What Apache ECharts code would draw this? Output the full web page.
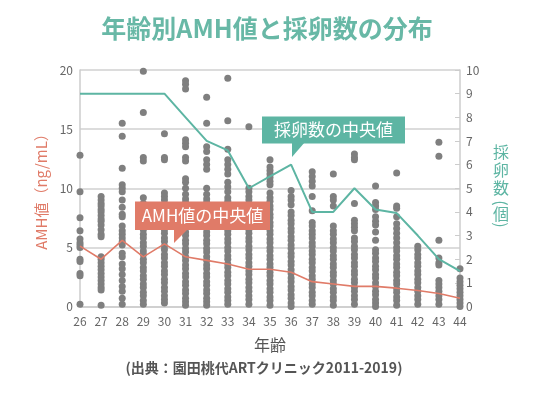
<!DOCTYPE html>
<html><head><meta charset="utf-8">
<script src="https://cdn.jsdelivr.net/npm/echarts@6/dist/echarts.min.js"></script>
<style>html,body{margin:0;padding:0;background:#fff}#c{width:534px;height:394px}</style>
</head><body><div id="c"></div>
<script>
const ages = [26,27,28,29,30,31,32,33,34,35,36,37,38,39,40,41,42,43,44];
const amhMedian = [5.1,4.0,5.6,4.2,5.3,4.2,3.9,3.6,3.15,3.15,2.9,2.1,1.9,1.7,1.7,1.55,1.35,1.1,0.7];
const eggMedian = [9,9,9,9,9,8,7,6.6,5,5.5,6,4,4,5,4.1,3.95,3,2,1.5];
const leftTicks = [0,5,10,15,20];
const rightTicks = [0,1,2,3,4,5,6,7,8,9,10];

const amh26 = [12.8,9.7,7.5,6.4,5.7,5.4,5.2,5.0,4.0,3.8,2.8,2.6,0.2];
const amh27 = [9.3,9.0,8.7,8.5,8.2,8.0,7.7,7.4,7.2,6.9,6.5,6.1,5.9,4.2,4.0,3.7,3.4,3.1,2.8,2.5,2.2,1.9,1.6,1.4,0.1];
const amh28 = [15.5,14.4,11.7,10.3,10.0,9.7,9.0,8.4,7.8,7.6,6.8,6.4,6.1,5.8,5.5,5.2,4.5,4.2,3.6,3.2,2.7,2.2,1.7,1.3,0.7,0.2];
const amh29 = [19.9,16.4,12.6,12.3,9.2,8.7,8.3,8.0,7.6,7.2,6.9,6.5,6.1,5.8,5.4,5.1,4.7,4.4,4.0,3.7,3.3,3.0,2.6,2.3,1.9,1.6,1.2,0.9,0.5,0.2];
const amh30 = [14.6,12.6,12.4,9.6,9.3,9.0,8.6,8.3,7.9,7.6,7.2,6.9,6.5,6.2,5.8,5.5,5.1,4.8,4.4,4.1,3.7,3.4,3.0,2.7,2.3,2.0,1.6,1.3,0.9,0.6,0.3];
const amh31 = [19.1,18.8,18.4,14.1,13.8,13.5,12.6,12.3,10.8,10.5,10.0,9.5,9.1,8.8,8.4,8.1,7.7,7.4,7.0,6.7,6.3,6.0,5.6,5.3,4.9,4.6,4.2,3.9,3.5,3.2,2.8,2.5,2.1,1.8,1.4,1.1,0.7,0.4,0.1];
const amh32 = [17.7,15.5,13.5,13.1,12.4,12.0,11.6,10.0,9.5,9.1,8.8,8.4,8.1,7.7,7.4,7.0,6.7,6.3,6.0,5.6,5.3,4.9,4.6,4.2,3.9,3.5,3.2,2.8,2.5,2.1,1.8,1.4,1.1,0.7,0.4,0.1];
const amh33 = [19.3,15.7,13.3,12.4,12.0,11.6,11.2,10.5,10.1,9.7,9.2,8.9,8.5,8.2,7.8,7.5,7.1,6.8,6.4,6.1,5.7,5.4,5.0,4.7,4.3,4.0,3.6,3.3,2.9,2.6,2.2,1.9,1.5,1.2,0.8,0.5,0.2];
const amh34 = [15.2,10.0,9.7,9.3,9.0,8.6,8.3,7.9,7.6,7.2,6.9,6.5,6.2,5.8,5.5,5.1,4.8,4.4,4.1,3.7,3.4,3.0,2.7,2.3,2.0,1.6,1.3,0.9,0.6,0.2];
const amh35 = [12.4,11.8,11.5,11.2,10.9,10.6,10.3,9.6,9.2,8.9,8.5,8.2,7.8,7.5,7.1,6.8,6.4,6.1,5.7,5.4,5.0,4.7,4.3,4.0,3.6,3.3,2.9,2.6,2.2,1.9,1.5,1.2,0.8,0.5,0.1];
const amh36 = [9.8,9.3,9.0,8.6,8.0,7.7,7.3,7.0,6.6,6.3,5.9,5.6,5.2,4.9,4.5,4.2,3.8,3.5,3.1,2.8,2.4,2.1,1.7,1.4,1.0,0.7,0.3,0.0];
const amh37 = [11.4,11.0,10.6,10.2,9.3,8.1,7.1,6.8,6.4,6.1,5.8,5.4,5.1,4.7,4.4,4.0,3.7,3.3,3.0,2.6,2.3,1.9,1.6,1.2,0.9,0.5,0.2];
const amh38 = [11.2,9.3,9.0,8.5,6.8,6.4,6.1,5.7,5.4,5.0,4.7,4.3,4.0,3.6,3.3,2.9,2.6,2.2,1.9,1.5,1.2,0.8,0.5,0.1];
const amh39 = [12.9,12.6,12.4,8.7,7.3,7.0,6.7,6.4,5.8,5.5,5.1,4.8,4.4,4.1,3.7,3.4,3.0,2.7,2.3,2.0,1.6,1.3,0.9,0.6,0.2];
const amh40 = [10.2,8.8,8.5,8.2,7.6,7.2,6.9,6.3,5.6,4.8,4.5,4.1,3.8,3.4,3.1,2.7,2.4,2.0,1.7,1.3,1.0,0.6,0.3,0.0];
const amh41 = [11.3,8.5,8.3,7.6,7.0,6.6,6.2,5.8,5.4,5.0,4.7,4.3,4.0,3.6,3.3,2.9,2.6,2.2,1.9,1.5,1.2,0.8,0.5,0.1];
const amh42 = [5.1,4.8,4.4,4.1,3.7,3.4,3.0,2.7,2.3,2.0,1.6,1.3,0.9,0.6,0.2];
const amh43 = [13.9,12.7,5.6,4.1,3.7,3.5,2.2,1.9,1.6,1.3,0.9,0.6,0.2];
const amh44 = [3.2,2.4,2.1,1.8,1.5,1.2,0.9,0.6,0.3,0.0];

const perAge = [amh26,amh27,amh28,amh29,amh30,amh31,amh32,amh33,amh34,amh35,amh36,amh37,amh38,amh39,amh40,amh41,amh42,amh43,amh44];
const scatterData = [];
perAge.forEach((arr,i)=>arr.forEach(v=>scatterData.push([ages[i],v])));

const TEAL = '#5db5a3', SALMON = '#e07b68', FONT = '"Noto Sans CJK JP", "Noto Sans", sans-serif';
// [char, y, rotated]
const rightTitleChars = [['採',152,0],['卵',170,0],['数',188,0],['(',203,1],['個',214,0],[')',225,1]];
const chart = echarts.init(document.getElementById('c'), null, {renderer:'canvas'});
chart.setOption({
  animation:false,
  textStyle:{fontFamily:FONT},
  title:{text:'年齢別AMH値と採卵数の分布', left:'center', top:11,
    textStyle:{color:'#68b8a6', fontSize:25, fontWeight:'bold', fontFamily:FONT}},
  grid:{left:80, right:74, top:70, bottom:87.5, containLabel:false},
  xAxis:{type:'value', min:26, max:44, interval:1,
    axisLine:{show:true, lineStyle:{color:'#cccccc', width:1.5}},
    axisTick:{show:false}, splitLine:{show:false},
    axisLabel:{color:'#666', fontSize:12, margin:9, fontFamily:FONT},
    name:'年齢', nameLocation:'middle', nameGap:30,
    nameTextStyle:{color:'#555', fontSize:16, fontFamily:FONT}},
  yAxis:[
    {type:'value', min:leftTicks[0], max:leftTicks[leftTicks.length-1], interval:5,
     axisLine:{show:true, lineStyle:{color:'#cccccc', width:1.5}},
     axisTick:{show:false},
     splitLine:{show:true, lineStyle:{color:'#d0d0d0', width:1.5}},
     axisLabel:{color:'#666', fontSize:12, margin:7, fontFamily:FONT}},
    {type:'value', min:rightTicks[0], max:rightTicks[rightTicks.length-1], interval:1, position:'right',
     axisLine:{show:true, lineStyle:{color:'#cccccc', width:1.5}},
     axisTick:{show:true, inside:true, length:5, lineStyle:{color:'#cccccc'}},
     splitLine:{show:false},
     axisLabel:{color:'#666', fontSize:12, margin:6, fontFamily:FONT}}
  ],
  series:[
    {type:'scatter', data:scatterData, symbolSize:7, itemStyle:{color:'#7f7f7f', opacity:1}, z:2},
    {type:'line', data:ages.map((a,i)=>[a,amhMedian[i]]), yAxisIndex:0, symbol:'none',
     lineStyle:{color:SALMON, width:1.6}, z:3},
    {type:'line', data:ages.map((a,i)=>[a,eggMedian[i]]), yAxisIndex:1, symbol:'none',
     lineStyle:{color:TEAL, width:2}, z:3}
  ],
  graphic:[
    {type:'text', x:41, y:188, rotation:Math.PI/2,
     style:{text:'AMH値（ng/mL）', fill:SALMON, font:'15px '+FONT, textAlign:'center', textVerticalAlign:'middle'}},
    ...rightTitleChars.map(([ch,y,rot])=>({type:'text', x:501, y:y, rotation: rot ? -Math.PI/2 : 0,
     style:{text:ch, fill:TEAL, font:'16px '+FONT, textAlign:'center', textVerticalAlign:'middle'}})),
    {type:'rect', shape:{x:135, y:201.5, width:135, height:28.5}, style:{fill:SALMON}, z:10},
    {type:'polygon', shape:{points:[[174,229],[174,243],[188,229]]}, style:{fill:SALMON}, z:10},
    {type:'text', x:202.5, y:216, style:{text:'AMH値の中央値', fill:'#fff', font:'17px '+FONT, textAlign:'center', textVerticalAlign:'middle'}, z:11},
    {type:'rect', shape:{x:262, y:116.5, width:143, height:27}, style:{fill:TEAL}, z:10},
    {type:'polygon', shape:{points:[[292,142],[292,157],[305,142]]}, style:{fill:TEAL}, z:10},
    {type:'text', x:333.5, y:130, style:{text:'採卵数の中央値', fill:'#fff', font:'17px '+FONT, textAlign:'center', textVerticalAlign:'middle'}, z:11},
    {type:'text', x:264, y:368, style:{text:'(出典：園田桃代ARTクリニック2011-2019)', fill:'#555', font:'bold 14px '+FONT, textAlign:'center', textVerticalAlign:'middle'}}
  ]
});
</script></body></html>
